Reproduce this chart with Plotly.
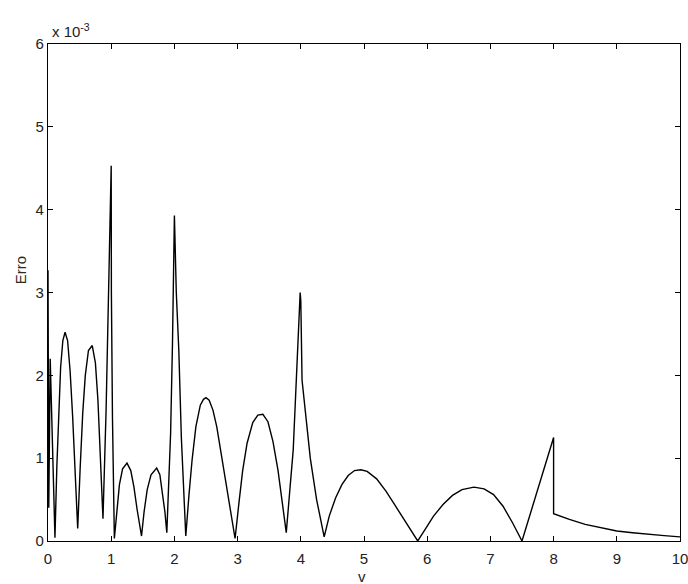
import plotly.graph_objects as go

# v values and error values (in units of 1e-3)
v_vals = [
    0.0, 0.012, 0.035, 0.11,
    0.14, 0.17, 0.20, 0.235, 0.27, 0.31, 0.35, 0.39, 0.43, 0.47,
    0.51, 0.55, 0.59, 0.64, 0.70, 0.75, 0.79, 0.83, 0.87,
    0.92, 0.96, 0.99, 1.0, 1.003, 1.02, 1.05,
    1.09, 1.13, 1.18, 1.25, 1.31, 1.36, 1.41, 1.48,
    1.52, 1.57, 1.63, 1.72, 1.77, 1.81, 1.85, 1.88,
    1.94, 1.97, 1.99, 2.0, 2.03, 2.07, 2.11, 2.18,
    2.23, 2.28, 2.34, 2.41, 2.46, 2.50, 2.55, 2.61, 2.67, 2.74, 2.82, 2.90, 2.96,
    3.02, 3.08, 3.15, 3.24, 3.32, 3.40, 3.48, 3.56, 3.64, 3.71, 3.77,
    3.88, 3.94, 3.99, 4.0, 4.02, 4.15, 4.25, 4.37,
    4.45, 4.55, 4.65, 4.75, 4.85, 4.95, 5.05, 5.2, 5.35, 5.5, 5.65, 5.75, 5.85,
    5.95, 6.1, 6.25, 6.4, 6.55, 6.74, 6.9, 7.05, 7.2, 7.35, 7.5,
    7.65, 7.8, 7.95, 8.0, 8.0,
    8.25, 8.5, 8.75, 9.0, 9.25, 9.5, 9.75, 10.0,
]
erro_vals = [
    3.27, 0.4, 2.2, 0.04,
    0.9, 1.6, 2.1, 2.42, 2.52, 2.42, 2.05, 1.5, 0.8, 0.15,
    0.9, 1.55, 2.0, 2.3, 2.36, 2.15, 1.7, 1.05, 0.27,
    1.6, 3.0, 4.0, 4.53, 3.0, 1.5, 0.03,
    0.4, 0.68, 0.87, 0.94, 0.85, 0.65, 0.38, 0.06,
    0.35, 0.62, 0.8, 0.88, 0.8, 0.6, 0.35, 0.1,
    1.3, 2.4, 3.2, 3.93, 3.0, 2.3, 1.25, 0.06,
    0.55, 0.98, 1.38, 1.64, 1.71, 1.73, 1.70, 1.58, 1.38, 1.05, 0.65, 0.28, 0.03,
    0.45, 0.85, 1.18, 1.43, 1.52, 1.53, 1.44, 1.2, 0.85, 0.45, 0.1,
    1.1, 2.2, 3.0, 2.9, 1.94, 1.0, 0.5, 0.05,
    0.3, 0.52, 0.68, 0.79, 0.85, 0.86, 0.84, 0.75, 0.6, 0.42, 0.24, 0.12, 0.0,
    0.12, 0.3, 0.44, 0.55, 0.62, 0.65, 0.63, 0.56, 0.42, 0.22, 0.0,
    0.38, 0.75, 1.15, 1.25, 0.33,
    0.26, 0.2, 0.16, 0.12, 0.1, 0.08, 0.065, 0.05,
]
x_ticks = [0, 1, 2, 3, 4, 5, 6, 7, 8, 9, 10]
y_ticks = [0, 1, 2, 3, 4, 5, 6]

fig = go.Figure()
fig.add_trace(go.Scatter(
    x=v_vals, y=erro_vals, mode="lines",
    line=dict(color="black", width=1.4),
    showlegend=False, hoverinfo="skip",
))

axis_common = dict(
    showgrid=False, zeroline=False, automargin=False,
    ticklabeloverflow="allow",
    showline=True, linecolor="black", linewidth=1.2,
    mirror="ticks", ticks="inside", ticklen=5, tickcolor="black",
    tickfont=dict(family="Liberation Sans, Arial, sans-serif", size=15, color="#222"),
)

fig.update_layout(
    width=688, height=584,
    margin=dict(l=48, r=8, t=44, b=43),
    paper_bgcolor="white", plot_bgcolor="white",
    xaxis=dict(range=[0, 10], tickvals=x_ticks, ticklabelstandoff=4,
               ticktext=[str(t) for t in x_ticks], **axis_common),
    yaxis=dict(range=[-0.0003, 6.0003], tickvals=y_ticks,
               ticktext=[str(t) for t in y_ticks], **axis_common),
    annotations=[
        dict(text="x 10<sup>-3</sup>", xref="paper", yref="paper",
             x=0.003, y=1.0, xanchor="left", yanchor="bottom", yshift=2,
             showarrow=False,
             font=dict(family="Liberation Sans, Arial, sans-serif", size=15, color="#222")),
        dict(text="Erro", xref="paper", yref="paper",
             x=-0.0443, y=0.545, xanchor="center", yanchor="middle",
             textangle=-90, showarrow=False,
             font=dict(family="Liberation Sans, Arial, sans-serif", size=15, color="#2e2a1e")),
        dict(text="v", xref="paper", yref="paper",
             x=0.497, y=-0.0724, xanchor="center", yanchor="middle",
             showarrow=False,
             font=dict(family="Liberation Sans, Arial, sans-serif", size=15, color="#222")),
    ],
)

fig.write_html("out.html")
